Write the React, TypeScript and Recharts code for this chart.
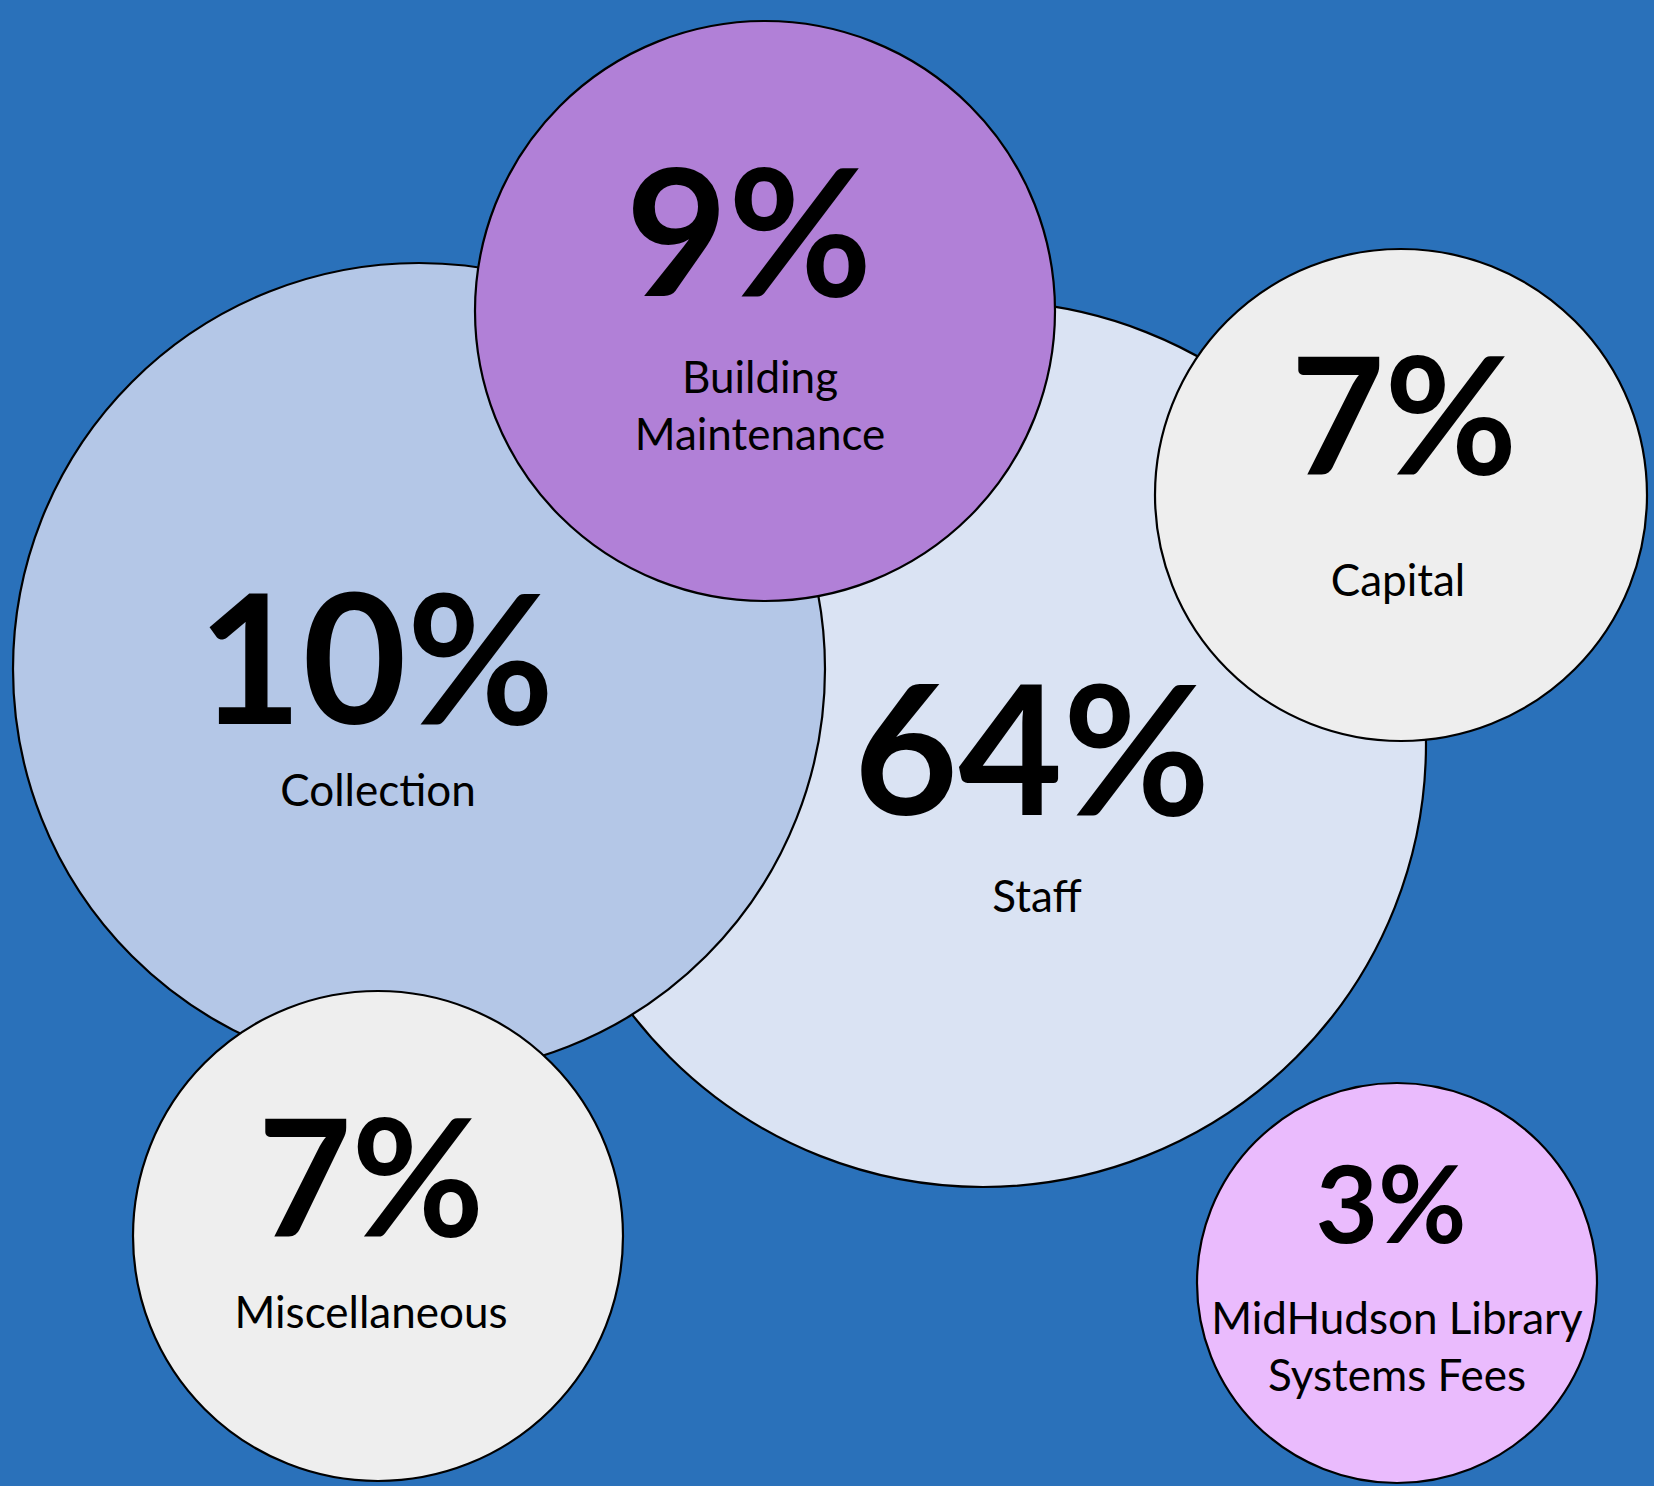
import React from 'react';
import { ScatterChart, Scatter, XAxis, YAxis, ZAxis } from 'recharts';

// Categories (draw order: back to front)
const categories = ['Staff', 'Collection', 'Building Maintenance', 'Capital', 'Miscellaneous', 'MidHudson Library Systems Fees'];
const labelLines = [['Staff'], ['Collection'], ['Building', 'Maintenance'], ['Capital'], ['Miscellaneous'], ['MidHudson Library', 'Systems Fees']];
const percents = [64, 10, 9, 7, 7, 3];

// Bubble centre (chart units) and bubble radius
const bubbleX = [983, 419, 765, 1401, 378, 1397];
const bubbleY = [744, 669, 311, 495, 1236, 1283];
const bubbleR = [443, 406, 290, 246, 245, 200];

// Text anchors (chart units)
const valueX = [1032, 376, 749, 1404, 371, 1391];
const valueY = [815, 724, 296, 475, 1237, 1243];
const labelX = [1037, 378, 760, 1398, 371, 1397];
const labelY = [912, 806, 393, 596, 1328, 1334];

// Styles
const fills = ['#DAE3F3', '#B4C7E7', '#B180D7', '#EEEEEE', '#EEEEEE', '#EABBFD'];
const valueFontSizes = [180, 180, 176, 162, 162, 108];
const BG = '#2A71BA';
const W = 1654;
const H = 1486;

const bubbles = categories.map((name, i) => ({ name, x: bubbleX[i], y: bubbleY[i], r: bubbleR[i], fill: fills[i] }));
const values = categories.map((name, i) => ({ name, x: valueX[i], y: valueY[i], pct: percents[i], fs: valueFontSizes[i] }));
const labels = categories.map((name, i) => ({ name, x: labelX[i], y: labelY[i], lines: labelLines[i] }));

const Bubble = (props: any) => {
  const { cx, cy, size, payload } = props;
  const r = typeof size === 'number' && isFinite(size) ? size : payload.r;
  return <circle cx={cx} cy={cy} r={r} fill={payload.fill} stroke="#000" strokeWidth={2.2} />;
};

const ValueText = (props: any) => {
  const { cx, cy, payload } = props;
  return (
    <text x={cx} y={cy} textAnchor="middle" fontFamily="Lato, 'Open Sans', sans-serif" fontWeight={700} fontSize={payload.fs} fill="#000">
      {payload.pct}%
    </text>
  );
};

const LabelText = (props: any) => {
  const { cx, cy, payload } = props;
  return (
    <text x={cx} y={cy} textAnchor="middle" fontFamily="Lato, 'Open Sans', sans-serif" fontWeight={400} fontSize={44} fill="#000">
      {payload.lines.map((l: string, i: number) => (
        <tspan key={i} x={cx} dy={i === 0 ? 0 : 57}>{l}</tspan>
      ))}
    </text>
  );
};

export default function App() {
  return (
    <div style={{ position: 'absolute', left: 0, top: 0, width: W, height: H, background: BG, overflow: 'hidden' }}>
      <ScatterChart width={W} height={H} margin={{ top: 0, right: 0, bottom: 0, left: 0 }}>
        <XAxis type="number" dataKey="x" domain={[0, W]} hide allowDataOverflow />
        <YAxis type="number" dataKey="y" domain={[0, H]} reversed hide allowDataOverflow />
        <ZAxis zAxisId="r" type="number" dataKey="r" domain={[0, 1000]} range={[0, 1000]} />
        <Scatter data={bubbles} zAxisId="r" shape={Bubble} isAnimationActive={false} />
        <Scatter data={values} shape={ValueText} isAnimationActive={false} />
        <Scatter data={labels} shape={LabelText} isAnimationActive={false} />
      </ScatterChart>
    </div>
  );
}
